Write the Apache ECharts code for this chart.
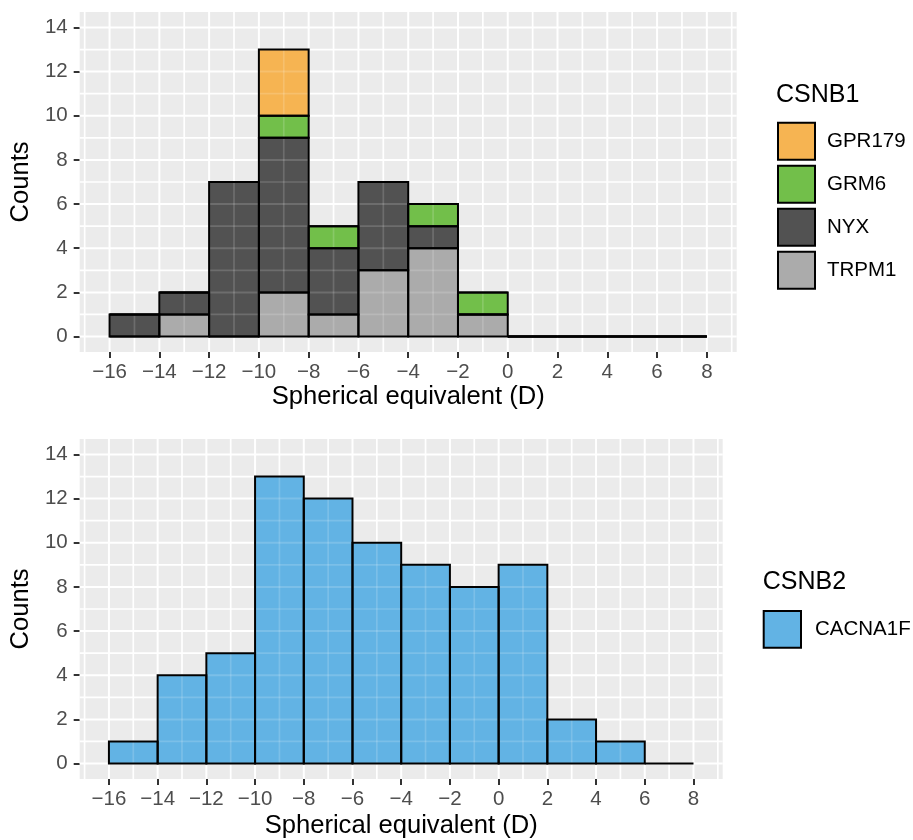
<!DOCTYPE html>
<html>
<head>
<meta charset="utf-8">
<script src="https://cdn.jsdelivr.net/npm/echarts@6/dist/echarts.min.js"></script>
<style>
html,body{margin:0;padding:0;background:#fff;}
#chart{width:913px;height:840px;}
</style>
</head>
<body>
<div id="chart"></div>
<script>
// ---- data ----
const binEdges = [-16, -14, -12, -10, -8, -6, -4, -2, 0, 2, 4, 6, 8];
const xTicks = [-16, -14, -12, -10, -8, -6, -4, -2, 0, 2, 4, 6, 8];
const xMinorTicks = [-17, -15, -13, -11, -9, -7, -5, -3, -1, 1, 3, 5, 7, 9];
const yTicks = [0, 2, 4, 6, 8, 10, 12, 14];
const yMinorTicks = [1, 3, 5, 7, 9, 11, 13];

// CSNB1 (stacked, bottom to top)
const trpm1 = [0, 1, 0, 2, 1, 3, 4, 1, 0, 0, 0, 0];
const nyx   = [1, 1, 7, 7, 3, 4, 1, 0, 0, 0, 0, 0];
const grm6  = [0, 0, 0, 1, 1, 0, 1, 1, 0, 0, 0, 0];
const gpr179 = [0, 0, 0, 3, 0, 0, 0, 0, 0, 0, 0, 0];
// CSNB2
const cacna1f = [1, 4, 5, 13, 12, 10, 9, 8, 9, 2, 1, 0];

const csnb1Names = ['GPR179', 'GRM6', 'NYX', 'TRPM1'];
const csnb2Names = ['CACNA1F'];

// ---- styles ----
const FONT = '"Liberation Sans", Arial, Helvetica, sans-serif';
const COLORS = { GPR179: '#F6B452', GRM6: '#72BF4A', NYX: '#525252', TRPM1: '#ABABAB', CACNA1F: '#62B3E4' };

function stackLayers(layers) {
  const base = binEdges.slice(1).map(() => 0);
  return layers.map(l => {
    const data = l.values.map((v, i) => {
      const seg = [binEdges[i], binEdges[i + 1], base[i], base[i] + v];
      base[i] += v;
      return seg;
    });
    return { name: l.name, data };
  });
}

const topLayers = stackLayers([
  { name: 'TRPM1', values: trpm1 },
  { name: 'NYX', values: nyx },
  { name: 'GRM6', values: grm6 },
  { name: 'GPR179', values: gpr179 }
]);
const bottomLayers = stackLayers([{ name: 'CACNA1F', values: cacna1f }]);

const gridData = [].concat(
  xTicks.map(v => [v, 0, 1]),
  xMinorTicks.map(v => [v, 0, 0]),
  yTicks.map(v => [v, 1, 1]),
  yMinorTicks.map(v => [v, 1, 0])
);

function gridSeries(idx, color, z) {
  return {
    type: 'custom', xAxisIndex: idx, yAxisIndex: idx, silent: true, z,
    data: gridData, encode: { x: -1, y: -1 },
    renderItem: (params, api) => {
      const cs = params.coordSys;
      const v = api.value(0), o = api.value(1), major = api.value(2);
      let shape;
      if (o === 0) {
        const x = api.coord([v, 0])[0];
        shape = { x1: x, y1: cs.y, x2: x, y2: cs.y + cs.height };
      } else {
        const y = api.coord([0, v])[1];
        shape = { x1: cs.x, y1: y, x2: cs.x + cs.width, y2: y };
      }
      return { type: 'line', shape, style: { stroke: color, lineWidth: major ? 2 : 1.7 } };
    }
  };
}

function barSeries(idx, layer) {
  return {
    type: 'custom', name: layer.name, xAxisIndex: idx, yAxisIndex: idx, z: 3,
    data: layer.data, encode: { x: [0, 1], y: [2, 3] },
    itemStyle: { color: COLORS[layer.name] },
    renderItem: (params, api) => {
      const p0 = api.coord([api.value(0), api.value(3)]);
      const p1 = api.coord([api.value(1), api.value(2)]);
      return { type: 'rect', shape: { x: p0[0], y: p0[1], width: p1[0] - p0[0], height: p1[1] - p0[1] },
        style: { fill: api.visual('color') } };
    }
  };
}

function borderSeries(idx, layers) {
  const data = [].concat(...layers.map(l => l.data));
  return {
    type: 'custom', xAxisIndex: idx, yAxisIndex: idx, z: 5, silent: true,
    data, encode: { x: [0, 1], y: [2, 3] },
    renderItem: (params, api) => {
      const p0 = api.coord([api.value(0), api.value(3)]);
      const p1 = api.coord([api.value(1), api.value(2)]);
      return { type: 'rect', shape: { x: p0[0], y: p0[1], width: p1[0] - p0[0], height: p1[1] - p0[1] },
        style: { fill: 'none', stroke: '#000', lineWidth: 2 } };
    }
  };
}

function xAxisCfg(gridIndex, nameGap) {
  return {
    type: 'value', gridIndex, min: -17.2, max: 9.2,
    name: 'Spherical equivalent (D)', nameLocation: 'middle', nameGap,
    nameTextStyle: { fontSize: 25.6, color: '#000', fontFamily: FONT },
    axisLine: { show: false, onZero: false },
    axisTick: { show: true, customValues: xTicks, length: 6, lineStyle: { color: '#333333', width: 2 } },
    axisLabel: { customValues: xTicks, margin: 10, fontSize: 20.5, color: '#4D4D4D', fontFamily: FONT,
      formatter: v => String(v).replace('-', '\u2212') },
    splitLine: { show: false }
  };
}
function yAxisCfg(gridIndex) {
  return {
    type: 'value', gridIndex, min: -0.7, max: 14.7,
    name: 'Counts', nameLocation: 'middle', nameGap: 41,
    nameTextStyle: { fontSize: 25.6, color: '#000', fontFamily: FONT },
    axisLine: { show: false, onZero: false },
    axisTick: { show: true, customValues: yTicks, length: 6, lineStyle: { color: '#333333', width: 2 } },
    axisLabel: { customValues: yTicks, margin: 12, fontSize: 20.5, color: '#4D4D4D', fontFamily: FONT },
    splitLine: { show: false }
  };
}

const chart = echarts.init(document.getElementById('chart'), null, { renderer: 'canvas' });
chart.setOption({
  animation: false,
  backgroundColor: '#ffffff',
  grid: [
    { left: 79, top: 12, width: 657.7, height: 340, show: true, backgroundColor: '#EBEBEB', borderWidth: 0 },
    { left: 79, top: 439, width: 643.7, height: 340, show: true, backgroundColor: '#EBEBEB', borderWidth: 0 }
  ],
  xAxis: [xAxisCfg(0, 32), xAxisCfg(1, 34)],
  yAxis: [yAxisCfg(0), yAxisCfg(1)],
  legend: [
    { data: csnb1Names, orient: 'vertical', left: 777, top: 121.7, icon: 'rect', padding: 0,
      itemWidth: 37, itemHeight: 37, itemGap: 4, selectedMode: false,
      itemStyle: { borderColor: '#000', borderWidth: 2 },
      textStyle: { fontSize: 20.5, color: '#000', fontFamily: FONT, padding: [0, 0, 0, 7] } },
    { data: csnb2Names, orient: 'vertical', left: 762.7, top: 610, icon: 'rect', padding: 0,
      itemWidth: 37.3, itemHeight: 36.7, itemGap: 4, selectedMode: false,
      itemStyle: { borderColor: '#000', borderWidth: 2 },
      textStyle: { fontSize: 20.5, color: '#000', fontFamily: FONT, padding: [0, 0, 0, 9] } }
  ],
  graphic: [
    { type: 'text', left: 776, top: 83, style: { text: 'CSNB1', font: '25px ' + FONT, fill: '#000' } },
    { type: 'text', left: 762.7, top: 570, style: { text: 'CSNB2', font: '25px ' + FONT, fill: '#000' } }
  ],
  series: [
    gridSeries(0, '#FFFFFF', 1),
    gridSeries(1, '#FFFFFF', 1),
    ...topLayers.map(l => barSeries(0, l)),
    ...bottomLayers.map(l => barSeries(1, l)),
    gridSeries(0, 'rgba(255,255,255,0.16)', 4),
    gridSeries(1, 'rgba(255,255,255,0.16)', 4),
    borderSeries(0, topLayers),
    borderSeries(1, bottomLayers)
  ]
});
</script>
</body>
</html>
